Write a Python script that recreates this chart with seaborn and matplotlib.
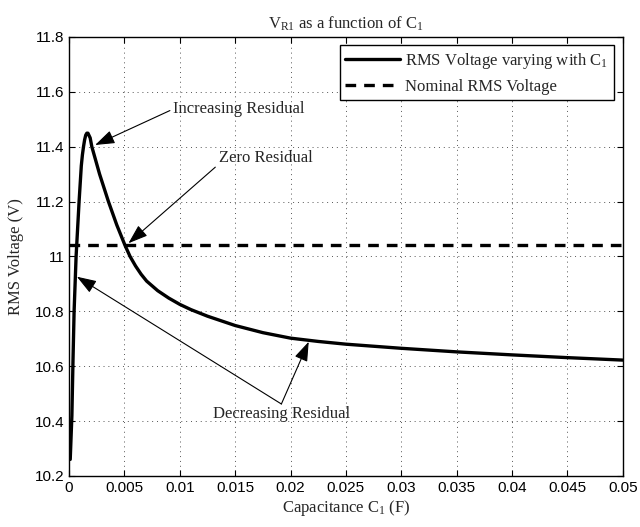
import numpy as np
import pandas as pd
import matplotlib
matplotlib.use("Agg")
import matplotlib.pyplot as plt
import seaborn as sns

# values
capacitance = [0.0001, 0.00025, 0.00035, 0.00045, 0.00063, 0.0009, 0.0011,
               0.0012, 0.0013, 0.0014, 0.0015, 0.0016, 0.0017, 0.0019,
               0.00205, 0.00275, 0.00355, 0.0043, 0.00505, 0.0055, 0.006,
               0.0065, 0.007, 0.008, 0.009, 0.01, 0.011, 0.0125, 0.015,
               0.0175, 0.02, 0.0225, 0.025, 0.03, 0.035, 0.04, 0.045, 0.05]
rms_voltage = [10.26, 10.42, 10.62, 10.80, 11.00, 11.20, 11.33,
               11.37, 11.40, 11.425, 11.442, 11.449, 11.449, 11.432,
               11.40, 11.30, 11.20, 11.115, 11.04, 11.00, 10.965,
               10.935, 10.91, 10.875, 10.848, 10.825, 10.806, 10.782, 10.748,
               10.722, 10.702, 10.69, 10.68, 10.665, 10.652, 10.641, 10.631, 10.622]
nominal_x = [0.0, 0.05]
nominal_v = [11.04, 11.04]

x_ticks = [0, 0.005, 0.01, 0.015, 0.02, 0.025, 0.03, 0.035, 0.04, 0.045, 0.05]
x_tick_labels = ["0", "0.005", "0.01", "0.015", "0.02", "0.025", "0.03",
                 "0.035", "0.04", "0.045", "0.05"]
y_ticks = [10.2, 10.4, 10.6, 10.8, 11.0, 11.2, 11.4, 11.6, 11.8]
y_tick_labels = ["10.2", "10.4", "10.6", "10.8", "11", "11.2", "11.4", "11.6", "11.8"]

sns.set_theme(style="ticks")
plt.rcParams.update({
    "font.family": ["Liberation Serif", "DejaVu Serif"],
    "mathtext.fontset": "custom",
    "mathtext.rm": "Liberation Serif",
    "mathtext.it": "Liberation Serif:italic",
    "font.size": 12,
    "axes.edgecolor": "black",
    "axes.linewidth": 1.0,
})

curve = pd.DataFrame({"C": capacitance, "V": rms_voltage})
nominal = pd.DataFrame({"C": nominal_x, "V": nominal_v})

fig = plt.figure(figsize=(6.4, 5.27), dpi=100)
ax = fig.add_axes([0.108, 0.097, 0.865, 0.833])

sns.lineplot(data=curve, x="C", y="V", ax=ax, color="black", linewidth=2.4,
             label=r"RMS Voltage varying with $\mathrm{C}_{1}$")
sns.lineplot(data=nominal, x="C", y="V", ax=ax, color="black", linewidth=2.4,
             linestyle=(0, (3.2, 2.4)), label="Nominal RMS Voltage")

ax.set_xlim(0, 0.05)
ax.set_ylim(10.2, 11.8)
ax.set_xticks(x_ticks, x_tick_labels)
ax.set_yticks(y_ticks, y_tick_labels)
ax.tick_params(direction="in", top=True, right=True, length=4, width=0.8,
               labelsize=11, labelfontfamily="Liberation Sans", colors="black")
ax.grid(True, linestyle=(0, (1, 4)), color="#555555", linewidth=0.7)

ax.set_title(r"$\mathrm{V}_{\mathrm{R1}}$ as a function of $\mathrm{C}_{1}$",
             fontsize=12, pad=6)
ax.set_xlabel(r"Capacitance $\mathrm{C}_{1}$ (F)", fontsize=12, labelpad=2)
ax.set_ylabel("RMS Voltage (V)", fontsize=12, labelpad=8)

leg = ax.legend(loc="upper right", fontsize=12, fancybox=False, framealpha=1,
                edgecolor="black", handlelength=3.3, handletextpad=0.3,
                labelspacing=0.45, borderaxespad=0.5, borderpad=0.35)
leg.get_frame().set_linewidth(1.0)

arrow = dict(arrowstyle="-|>,head_length=1.0,head_width=0.35", color="black",
             linewidth=0.8, shrinkA=0, shrinkB=0)

ax.annotate("Increasing Residual", xy=(0.00235, 11.406), xytext=(0.0094, 11.537),
            ha="left", va="center", fontsize=12,
            arrowprops=dict(arrow, relpos=(0, 0.5)))
ax.annotate("Zero Residual", xy=(0.00536, 11.048), xytext=(0.0135, 11.359),
            ha="left", va="center", fontsize=12,
            arrowprops=dict(arrow, relpos=(0, 0.1)))

ax.text(0.01915, 10.426, "Decreasing Residual", ha="center", va="center", fontsize=12)
ax.annotate("", xy=(0.0007, 10.926), xytext=(0.01917, 10.462), arrowprops=arrow)
ax.annotate("", xy=(0.02164, 10.689), xytext=(0.01917, 10.462), arrowprops=arrow)

fig.savefig("out.png", dpi=100)
